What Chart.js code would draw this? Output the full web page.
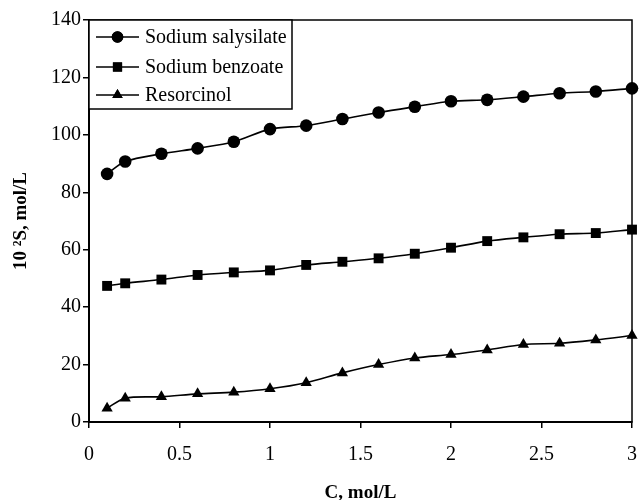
<!DOCTYPE html>
<html>
<head>
<meta charset="utf-8">
<script src="https://cdn.jsdelivr.net/npm/chart.js@4/dist/chart.umd.min.js"></script>
<style>
  html, body { margin: 0; padding: 0; background: #fff; }
  #wrap { width: 639px; height: 500px; }
</style>
</head>
<body>
<div id="wrap"><canvas id="c" width="639" height="500"></canvas></div>
<script>
const concentrations = [0.1, 0.2, 0.4, 0.6, 0.8, 1.0, 1.2, 1.4, 1.6, 1.8, 2.0, 2.2, 2.4, 2.6, 2.8, 3.0];
const sodiumSalysilate = [86.4, 90.7, 93.4, 95.3, 97.6, 102.0, 103.2, 105.5, 107.8, 109.8, 111.7, 112.2, 113.3, 114.5, 115.1, 116.2];
const sodiumBenzoate = [47.4, 48.3, 49.6, 51.2, 52.1, 52.8, 54.7, 55.8, 57.0, 58.6, 60.7, 63.0, 64.3, 65.4, 65.8, 67.0];
const resorcinol = [4.8, 8.3, 8.8, 9.8, 10.4, 11.6, 13.7, 17.1, 20.0, 22.3, 23.5, 25.1, 27.0, 27.4, 28.6, 30.1];
const seriesNames = ['Sodium salysilate', 'Sodium benzoate', 'Resorcinol'];
const xTitle = 'C, mol/L';
const yTitle = '10 \u00B2S, mol/L';

const FONT = '"Liberation Serif", "Times New Roman", serif';

function toPoints(ys) { return concentrations.map((x, i) => ({ x: x, y: ys[i] })); }

function ds(label, ys, style, radius) {
  return {
    label: label,
    data: toPoints(ys),
    borderColor: '#000',
    backgroundColor: '#000',
    borderWidth: 1.6,
    pointStyle: style,
    pointRadius: radius,
    pointBackgroundColor: '#000',
    pointBorderColor: '#000',
    pointBorderWidth: 0,
    tension: 0.3,
    clip: false
  };
}

const framePlugin = {
  id: 'frame',
  afterDatasetsDraw(chart) {
    const { ctx, chartArea: a } = chart;
    ctx.save();
    ctx.strokeStyle = '#000';
    ctx.lineWidth = 1.5;
    ctx.strokeRect(a.left, a.top, a.right - a.left, a.bottom - a.top);
    ctx.restore();
  }
};

const boxLegendPlugin = {
  id: 'boxLegend',
  afterDraw(chart) {
    const { ctx, chartArea: a } = chart;
    const x0 = a.left, y0 = a.top;
    const w = 203, h = 89;
    ctx.save();
    ctx.fillStyle = '#fff';
    ctx.fillRect(x0, y0, w, h);
    ctx.strokeStyle = '#000';
    ctx.lineWidth = 1.5;
    ctx.strokeRect(x0, y0, w, h);
    const rows = [17, 47, 75];
    chart.data.datasets.forEach((d, i) => {
      const cy = y0 + rows[i];
      ctx.strokeStyle = '#000';
      ctx.lineWidth = 1.6;
      ctx.beginPath();
      ctx.moveTo(x0 + 7, cy);
      ctx.lineTo(x0 + 50, cy);
      ctx.stroke();
      ctx.fillStyle = '#000';
      Chart.helpers.drawPoint(ctx, {
        pointStyle: d.pointStyle, radius: d.pointRadius - 0.5, borderWidth: 0, rotation: 0
      }, x0 + 28.5, cy);
      ctx.fill();
      ctx.fillStyle = '#000';
      ctx.font = '20px ' + FONT;
      ctx.textBaseline = 'middle';
      ctx.textAlign = 'left';
      ctx.fillText(d.label, x0 + 56, cy + 1);
    });
    ctx.restore();
  }
};

new Chart(document.getElementById('c'), {
  type: 'line',
  data: {
    datasets: [
      ds(seriesNames[0], sodiumSalysilate, 'circle', 6.3),
      ds(seriesNames[1], sodiumBenzoate, 'rect', 7),
      ds(seriesNames[2], resorcinol, 'triangle', 6.5)
    ]
  },
  options: {
    responsive: false,
    animation: false,
    devicePixelRatio: 1,
    layout: { padding: { left: 0, right: 6, top: 20, bottom: 0 } },
    plugins: { legend: { display: false }, tooltip: { enabled: false } },
    scales: {
      x: {
        type: 'linear',
        min: 0, max: 3,
        ticks: {
          stepSize: 0.5,
          color: '#000',
          font: { family: FONT, size: 20 },
          padding: 15,
          maxRotation: 0,
          callback: (v) => String(v)
        },
        grid: { display: true, drawOnChartArea: false, tickLength: 6, color: '#000', lineWidth: 1.5 },
        border: { display: true, color: '#000', width: 2 },
        title: {
          display: true, text: xTitle, color: '#000',
          font: { family: FONT, size: 19, weight: 'bold' },
          padding: { top: 0, bottom: -4 }
        },
        afterFit(scale) { scale.height = 78; scale.paddingRight = 0; scale.paddingLeft = 0; }
      },
      y: {
        type: 'linear',
        min: 0, max: 140,
        ticks: {
          stepSize: 20,
          color: '#000',
          font: { family: FONT, size: 20 },
          padding: 2
        },
        grid: { display: true, drawOnChartArea: false, tickLength: 6, color: '#000', lineWidth: 1.5 },
        border: { display: true, color: '#000', width: 2 },
        title: {
          display: true, text: yTitle, color: '#000',
          font: { family: FONT, size: 19, weight: 'bold' },
          padding: { top: 10, bottom: 0 }
        },
        afterFit(scale) { scale.width = 89; scale.paddingTop = 0; scale.paddingBottom = 0; }
      }
    }
  },
  plugins: [framePlugin, boxLegendPlugin]
});
</script>
</body>
</html>
